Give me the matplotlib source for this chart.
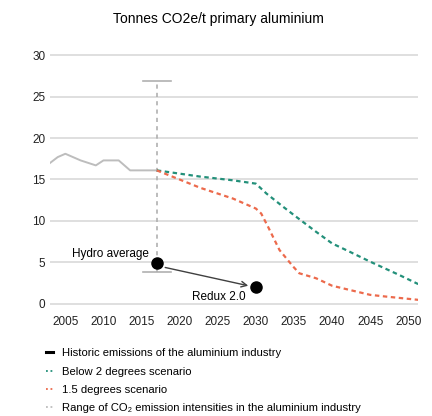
import matplotlib
matplotlib.use("Agg")
import matplotlib.pyplot as plt
from matplotlib.lines import Line2D

plt.rcParams["font.family"] = ["Liberation Sans", "DejaVu Sans"]

# historic emission intensity, t CO2e / t primary aluminium
hist_years = [2003, 2004, 2005, 2006, 2007, 2008, 2009, 2010, 2011, 2012, 2013.5, 2014, 2015, 2016, 2017]
hist_vals = [17.0, 17.7, 18.1, 17.7, 17.3, 17.0, 16.7, 17.3, 17.3, 17.3, 16.1, 16.1, 16.1, 16.1, 16.1]

# below 2 degrees scenario
b2_years = [2017, 2022.7, 2027, 2030, 2031.4, 2033.6, 2035.3, 2037.9, 2040, 2042.3, 2045, 2048.8, 2051.3]
b2_vals = [16.1, 15.35, 14.9, 14.5, 13.3, 11.7, 10.5, 8.7, 7.3, 6.3, 5.1, 3.5, 2.4]

# 1.5 degrees scenario
s15_years = [2017, 2022.7, 2027, 2030, 2030.7, 2031.6, 2033.1, 2034.9, 2035.7, 2037.9, 2040, 2045, 2047, 2051.3]
s15_vals = [16.1, 14.0, 12.7, 11.5, 10.9, 9.3, 6.5, 4.5, 3.7, 3.1, 2.2, 1.1, 0.9, 0.5]

# range of intensities and the two reference points
range_year = 2017
range_low, range_high = 3.8, 26.9
hydro_year, hydro_val = 2017, 4.9
redux_year, redux_val = 2030, 2.0

GREEN = "#23907a"
RED = "#ec6a4c"
GREY = "#bdbdbd"
GRID = "#d9d9d9"

fig = plt.figure(figsize=(4.32, 4.16), dpi=100)
ax = fig.add_axes([0.116, 0.2593, 0.852, 0.6284])

ax.set_xlim(2003, 2051.3)
ax.set_ylim(-0.5, 31)
for y in range(0, 31, 5):
    ax.axhline(y, color=GRID, lw=1.2, zorder=0)

ax.plot(hist_years, hist_vals, color=GREY, lw=1.4, zorder=2)
ax.plot(b2_years, b2_vals, color=GREEN, lw=1.6, ls=(0, (2, 1.6)), zorder=3)
ax.plot(s15_years, s15_vals, color=RED, lw=1.6, ls=(0, (2, 1.6)), zorder=3)

# range bar
ax.plot([range_year, range_year], [range_low, range_high], color="#b0b0b0",
        lw=1.2, ls=(0, (2.5, 2.5)), zorder=2)
for y in (range_low, range_high):
    ax.plot([range_year - 1.8, range_year + 1.8], [y, y], color="#b0b0b0", lw=1.2, zorder=2)

ax.plot([hydro_year], [hydro_val], "o", color="black", ms=8, zorder=5)
ax.plot([redux_year], [redux_val], "o", color="black", ms=8, zorder=5)
ax.annotate("", xy=(redux_year - 1.0, redux_val + 0.2), xytext=(hydro_year + 1.1, hydro_val - 0.5),
            arrowprops=dict(arrowstyle="->", color="#404040", lw=1.0, shrinkA=0, shrinkB=0))
ax.text(hydro_year - 1.0, hydro_val + 0.35, "Hydro average", ha="right", va="bottom", fontsize=8.5)
ax.text(redux_year - 1.3, redux_val - 1.2, "Redux 2.0", ha="right", va="center", fontsize=8.5)

ax.set_xticks(range(2005, 2051, 5))
ax.set_yticks(range(0, 31, 5))
ax.tick_params(axis="x", pad=6)
ax.tick_params(length=0, labelsize=8.5, colors="#222222")
for s in ax.spines.values():
    s.set_visible(False)

fig.text(0.505, 0.955, "Tonnes CO2e/t primary aluminium", ha="center", va="center", fontsize=10)

handles = [
    Line2D([], [], color="black", lw=2.2),
    Line2D([], [], color=GREEN, lw=1.3, ls=(0, (1, 1.5))),
    Line2D([], [], color=RED, lw=1.3, ls=(0, (1, 1.5))),
    Line2D([], [], color=GREY, lw=1.3, ls=(0, (1, 1.5))),
]
labels = [
    "Historic emissions of the aluminium industry",
    "Below 2 degrees scenario",
    "1.5 degrees scenario",
    "Range of CO\u2082 emission intensities in the aluminium industry",
]
fig.legend(handles, labels, loc="upper left", bbox_to_anchor=(0.106, 0.163), frameon=False,
           fontsize=8.1, handlelength=0.6, handletextpad=0.8, labelspacing=0.74,
           borderpad=0, borderaxespad=0)

fig.savefig("out.png", dpi=100)
